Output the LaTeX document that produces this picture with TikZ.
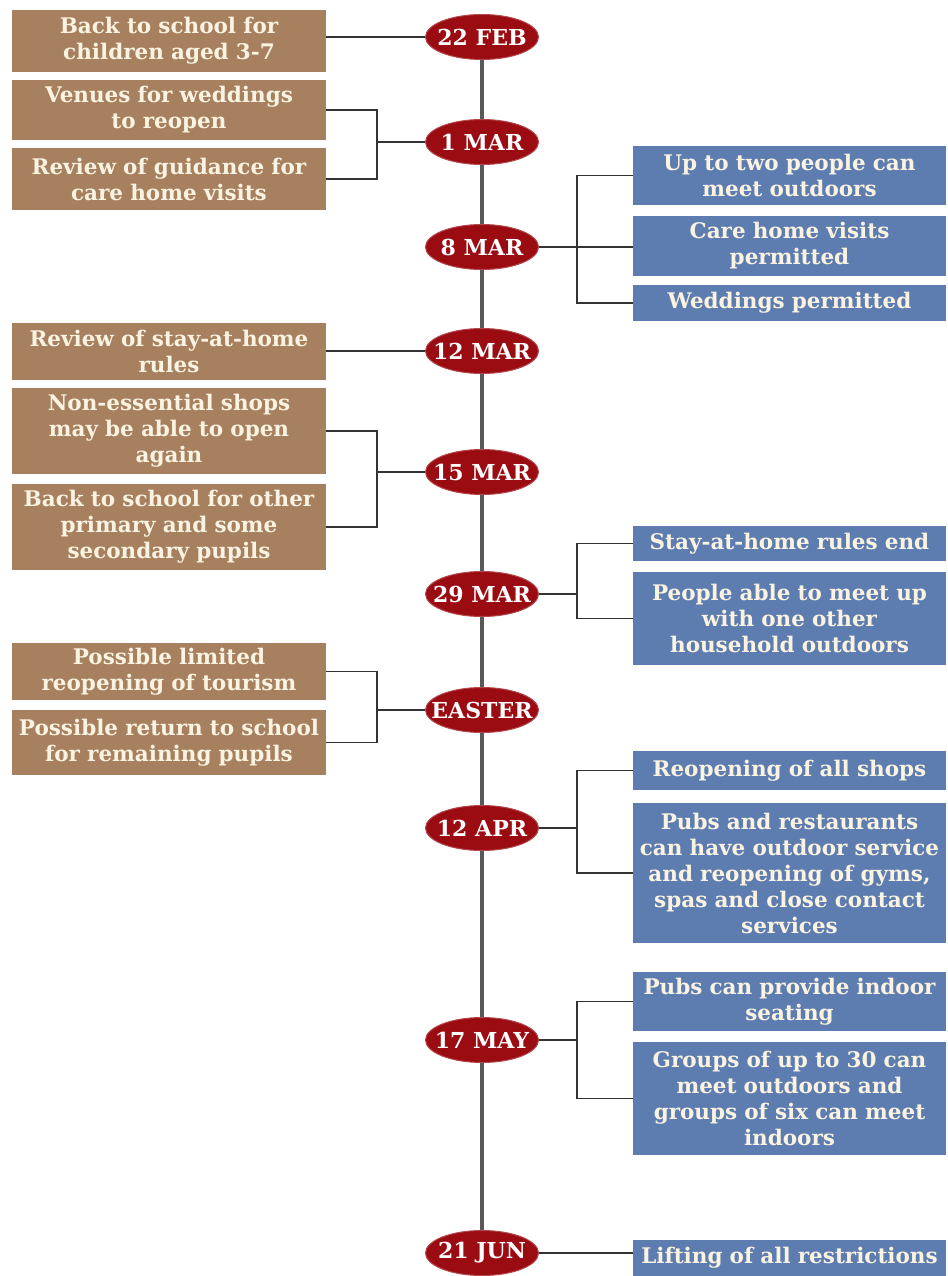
\documentclass[tikz,border=0pt]{standalone}
\usepackage{fontspec}
\setmainfont{DejaVu Serif}
\usepackage{xcolor}
\usepackage{tikz}
\usetikzlibrary{shapes.geometric}

\definecolor{tan}{HTML}{A7815F}
\definecolor{slate}{HTML}{5D7DB0}
\definecolor{wine}{HTML}{9A0B12}
\definecolor{cream}{HTML}{FBF3E2}
\definecolor{wire}{HTML}{333333}

\newcommand{\stamp}[1]{\makebox[0pt]{#1}}

\begin{document}
\begin{tikzpicture}[x=1pt,y=-1pt,
    leftbox/.style={fill=tan,text=cream,font=\bfseries\fontsize{21.5}{26}\selectfont,
        align=center,text width=310pt,minimum width=314pt,inner sep=0pt},
    rightbox/.style={leftbox,fill=slate,minimum width=313pt},
    datemark/.style={ellipse,fill=wine,draw=wine!75!white,line width=1pt,text=white,
        font=\bfseries\fontsize{22}{24}\selectfont,minimum width=113pt,minimum height=45pt,inner sep=0pt},
    link/.style={wire,line width=1.8pt},
    spine/.style={gray!70!black,line width=3.5pt}]
    \fill[white] (0,0) rectangle (947,1276);

    % Dates on the spine
    \node[datemark] (feb22) at (482,37) {\stamp{22 FEB}};
    \node[datemark] (mar1) at (482,142) {\stamp{1 MAR}};
    \node[datemark] (mar8) at (482,247) {\stamp{8 MAR}};
    \node[datemark] (mar12) at (482,351) {\stamp{12 MAR}};
    \node[datemark] (mar15) at (482,472) {\stamp{15 MAR}};
    \node[datemark] (mar29) at (482,594) {\stamp{29 MAR}};
    \node[datemark] (easter) at (482,710) {\stamp{EASTER}};
    \node[datemark] (apr12) at (482,828) {\stamp{12 APR}};
    \node[datemark] (may17) at (482,1040) {\stamp{17 MAY}};
    \node[datemark] (jun21) at (482,1253) {\stamp{21 JUN}};
    \foreach \a/\b in {feb22/mar1,mar1/mar8,mar8/mar12,mar12/mar15,mar15/mar29,
        mar29/easter,easter/apr12,apr12/may17,may17/jun21}
        \draw[spine] (\a) -- (\b);

    % Left column
    \node[leftbox,minimum height=62pt] (school) at (169,41) {Back to school for\\children aged 3-7};
    \node[leftbox,minimum height=60pt] (venues) at (169,110) {Venues for weddings\\to reopen};
    \node[leftbox,minimum height=62pt] (guidance) at (169,179) {Review of guidance for\\care home visits};
    \node[leftbox,minimum height=57pt] (review) at (169,351.5) {Review of stay-at-home\\rules};
    \node[leftbox,minimum height=86pt] (shops) at (169,431) {Non-essential shops\\may be able to open\\again};
    \node[leftbox,minimum height=86pt] (primary) at (169,527) {Back to school for other\\primary and some\\secondary pupils};
    \node[leftbox,minimum height=57pt] (tourism) at (169,671.5) {Possible limited\\reopening of tourism};
    \node[leftbox,minimum height=65pt] (remaining) at (169,742.5) {Possible return to school\\for remaining pupils};

    % Right column
    \node[rightbox,minimum height=59pt] (meettwo) at (789.5,175.5) {Up to two people can\\meet outdoors};
    \node[rightbox,minimum height=60pt] (carehome) at (789.5,246) {Care home visits\\permitted};
    \node[rightbox,minimum height=36pt] (weddings) at (789.5,303) {Weddings permitted};
    \node[rightbox,minimum height=35pt] (stayend) at (789.5,543.5) {Stay-at-home rules end};
    \node[rightbox,minimum height=93pt] (household) at (789.5,618.5) {People able to meet up\\with one other\\household outdoors};
    \node[rightbox,minimum height=39pt] (allshops) at (789.5,770.5) {Reopening of all shops};
    \node[rightbox,minimum height=140pt] (pubsout) at (789.5,873) {Pubs and restaurants\\can have outdoor service\\and reopening of gyms,\\spas and close contact\\services};
    \node[rightbox,minimum height=59pt] (pubsin) at (789.5,1001.5) {Pubs can provide indoor\\seating};
    \node[rightbox,minimum height=113pt] (groups) at (789.5,1098.5) {Groups of up to 30 can\\meet outdoors and\\groups of six can meet\\indoors};
    \node[rightbox,minimum height=36pt] (lifting) at (789.5,1258) {Lifting of all restrictions};

    % Bracket joints
    \coordinate (jmar1) at (377,142);
    \coordinate (jmar8) at (577,247);
    \coordinate (jmar15) at (377,472);
    \coordinate (jmar29) at (577,594);
    \coordinate (jeaster) at (377,710);
    \coordinate (japr12) at (577,828);
    \coordinate (jmay17) at (577,1040);

    % Connectors
    \draw[link] (feb22) -- (feb22 -| school.east);
    \draw[link] (mar12) -- (mar12 -| review.east);
    \draw[link] (jun21) -- (jun21 -| lifting.west);
    \draw[link] (venues.east) -| (jmar1) |- (guidance.east);
    \draw[link] (jmar1) -- (mar1);
    \draw[link] (shops.east) -| (jmar15) |- (primary.east);
    \draw[link] (jmar15) -- (mar15);
    \draw[link] (tourism.east) -| (jeaster) |- (remaining.east);
    \draw[link] (jeaster) -- (easter);
    \draw[link] (meettwo.west) -| (jmar8) |- (weddings.west);
    \draw[link] (mar8) -- (mar8 -| carehome.west);
    \draw[link] (stayend.west) -| (jmar29) |- (household.west);
    \draw[link] (jmar29) -- (mar29);
    \draw[link] (allshops.west) -| (japr12) |- (pubsout.west);
    \draw[link] (japr12) -- (apr12);
    \draw[link] (pubsin.west) -| (jmay17) |- (groups.west);
    \draw[link] (jmay17) -- (may17);
\end{tikzpicture}
\end{document}
